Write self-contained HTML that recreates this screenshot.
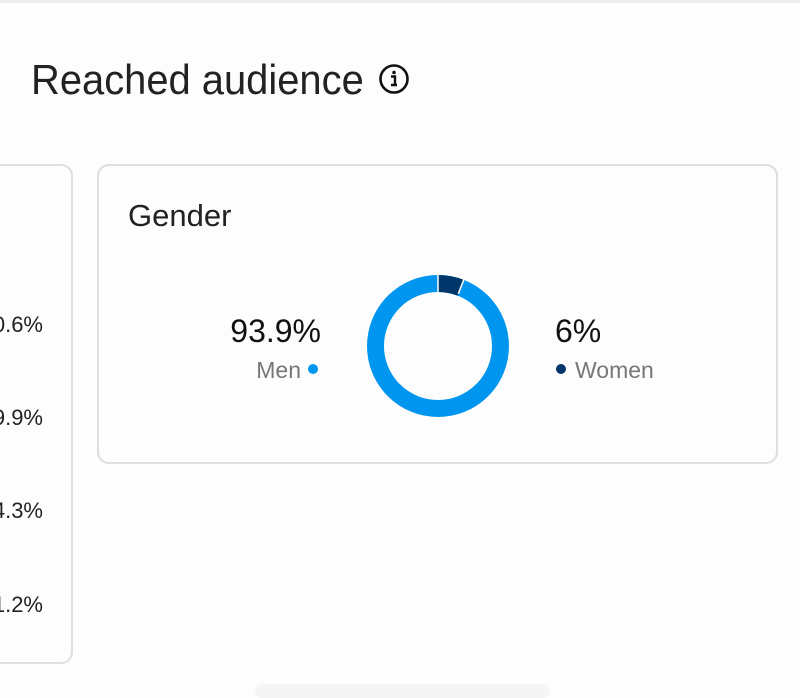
<!DOCTYPE html>
<html><head><style>
body{margin:0;width:800px;height:691px;background:#fdfdfd;position:relative;overflow:hidden;font-family:"Liberation Sans",sans-serif;}
.abs{position:absolute;white-space:nowrap;}
.card{position:absolute;border:2px solid #dedede;border-radius:12px;background:#fdfdfd;box-sizing:border-box;}
</style></head><body>
<div class="abs" style="left:0;top:0;width:800px;height:3px;background:#eee"></div>
<div class="abs" style="left:31px;top:59px;font-size:42px;line-height:1;color:#222;transform:scaleX(0.95);transform-origin:0 0">Reached audience</div>
<svg class="abs" style="left:378px;top:63px" width="32" height="32"><circle cx="16" cy="16" r="13.5" fill="none" stroke="#111" stroke-width="2.6"/><circle cx="16" cy="9.5" r="1.8" fill="#111"/><path d="M13 13.5h4v8.5M13 22h6" stroke="#111" stroke-width="2.4" fill="none"/></svg>
<div class="card" style="left:-20px;top:164px;width:93px;height:500px"></div>
<div class="abs" style="left:0;top:312px;width:43px;text-align:right;font-size:22px;color:#222;overflow:hidden;direction:rtl">0.6%</div>
<div class="abs" style="left:0;top:405px;width:43px;text-align:right;font-size:22px;color:#222;overflow:hidden;direction:rtl">9.9%</div>
<div class="abs" style="left:0;top:498px;width:43px;text-align:right;font-size:22px;color:#222;overflow:hidden;direction:rtl">4.3%</div>
<div class="abs" style="left:0;top:592px;width:43px;text-align:right;font-size:22px;color:#222;overflow:hidden;direction:rtl">1.2%</div>
<div class="card" style="left:97px;top:164px;width:681px;height:300px"></div>
<div class="abs" style="left:128px;top:200px;font-size:31px;line-height:1;color:#222;transform:scaleX(1.0);transform-origin:0 0">Gender</div>
<svg class="abs" style="left:358px;top:266px" width="160" height="160">
<circle cx="80" cy="80" r="62.5" fill="none" stroke="#0095ee" stroke-width="17"/>
<circle cx="80" cy="80" r="62.5" fill="none" stroke="#00376b" stroke-width="17" stroke-dasharray="23.6 400" transform="rotate(-90 80 80)"/>
<line x1="80" y1="9" x2="80" y2="27" stroke="#fff" stroke-width="1.5"/>
<line x1="80" y1="80" x2="108" y2="8" stroke="#fff" stroke-width="1.5" stroke-dasharray="0 56 30"/>
</svg>
<div class="abs" style="left:200px;top:313px;width:121px;text-align:right;font-size:32px;color:#111">93.9%</div>
<div class="abs" style="left:200px;top:357px;width:101px;text-align:right;font-size:23px;color:#777">Men</div>
<div class="abs" style="left:308px;top:364px;width:10px;height:10px;border-radius:50%;background:#0095ee"></div>
<div class="abs" style="left:555px;top:313px;font-size:32px;color:#111">6%</div>
<div class="abs" style="left:556px;top:364px;width:10px;height:10px;border-radius:50%;background:#00376b"></div>
<div class="abs" style="left:575px;top:357px;font-size:23px;color:#777">Women</div>
<div class="abs" style="left:255px;top:684px;width:295px;height:14px;border-radius:8px;background:#f5f5f5"></div>
</body></html>
